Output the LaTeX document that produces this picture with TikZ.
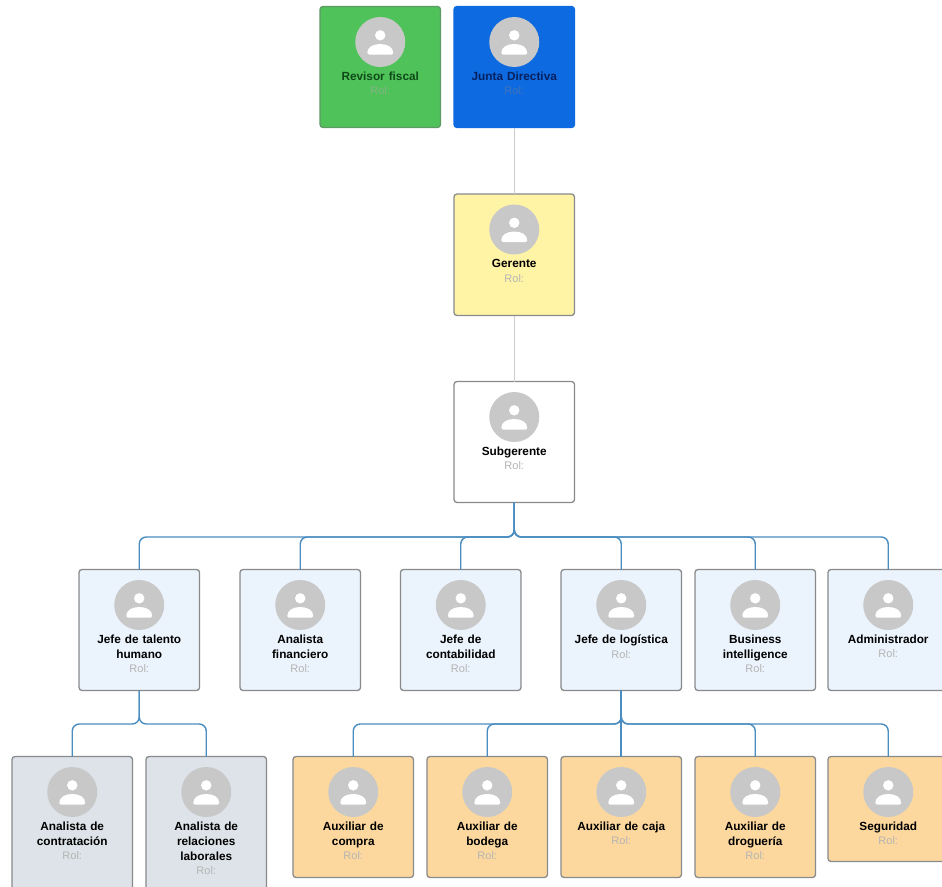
\documentclass[tikz,border=0pt]{standalone}
\usepackage{fontspec}
\setmainfont{Liberation Sans}
\usetikzlibrary{calc}
\definecolor{cgreen}{HTML}{4FC25A}
\definecolor{cblue}{HTML}{0E6AE0}
\definecolor{cyellow}{HTML}{FFF3A6}
\definecolor{clight}{HTML}{EBF3FC}
\definecolor{cgrey}{HTML}{DDE3E8}
\definecolor{corange}{HTML}{FDD89E}
\definecolor{cedge}{HTML}{888A8C}
\definecolor{cline}{HTML}{4A8DC0}
\definecolor{cthin}{HTML}{CCCCCC}
\definecolor{cavatar}{HTML}{C8C8C8}
\definecolor{crol}{HTML}{B4B4B4}
\definecolor{cgreenedge}{HTML}{5E9A64}
\definecolor{cgreentext}{HTML}{0E4A18}
\definecolor{cgreenrol}{HTML}{84B488}
\definecolor{cbluetext}{HTML}{06205E}
\definecolor{cbluerol}{HTML}{4274B8}
\tikzset{
  x=1pt,y=-1pt,
  cardbox/.style={line width=1.3pt,rounded corners=3pt,anchor=north west,minimum width=120.5pt,inner sep=0pt,outer sep=0pt},
  cardtext/.style={anchor=north,align=center,inner sep=0pt,font=\bfseries\fontsize{11.8}{15}\selectfont,text width=118pt},
  avatar/.style={fill=cavatar,draw=none,circle,minimum size=50pt,inner sep=0pt},
  branch/.style={draw=cline,line width=1.4pt,rounded corners=7pt},
  straight branch/.style={draw=cline,line width=2pt},
  thin link/.style={draw=cthin,line width=0.9pt},
}
% \card{name}{x}{y}{height}{fill}{edge}{name colour}{rol colour}{text}
\newcommand{\card}[9]{%
  \node[cardbox,fill=#5,draw=#6,minimum height=#4pt] (#1) at (#2,#3) {};
  \node[avatar] (#1a) at ($(#1.north)+(0,35.5)$) {};
  \fill[white] ($(#1a.center)+(0,-6.7)$) circle (5.2);
  \fill[white] ($(#1a.center)+(-13,11)$)
     .. controls ($(#1a.center)+(-13,5)$) and ($(#1a.center)+(-7,2)$) .. ($(#1a.center)+(0,2)$)
     .. controls ($(#1a.center)+(7,2)$) and ($(#1a.center)+(13,5)$) .. ($(#1a.center)+(13,11)$)
     .. controls ($(#1a.center)+(13,12.3)$) and ($(#1a.center)+(12.3,12.5)$) .. ($(#1a.center)+(11.5,12.5)$)
     -- ($(#1a.center)+(-11.5,12.5)$)
     .. controls ($(#1a.center)+(-12.3,12.5)$) and ($(#1a.center)+(-13,12.3)$) .. cycle;
  \node[cardtext] (#1t) at ($(#1.north)+(0,65.2)$) {\textcolor{#7}{#9}\\[-0.5pt]\textcolor{#8}{\mdseries\fontsize{11}{14}\selectfont Rol:}};
}
\begin{document}
\begin{tikzpicture}
\useasboundingbox (0,0) rectangle (942,886);
\clip (0,0) rectangle (942,886);
\fill[white] (0,0) rectangle (942,886);
\coordinate (busA) at (0,537);
\coordinate (busB) at (0,724);
\card{rev}{320}{6.5}{121}{cgreen}{cgreenedge}{cgreentext}{cgreenrol}{Revisor fiscal}
\card{jun}{454}{6.5}{121}{cblue}{cblue}{cbluetext}{cbluerol}{Junta Directiva}
\card{ger}{454}{194}{121.5}{cyellow}{cedge}{black}{crol}{Gerente}
\card{sub}{454}{381.5}{121}{white}{cedge}{black}{crol}{Subgerente}
\card{jth}{79}{569.5}{121}{clight}{cedge}{black}{crol}{Jefe de talento\\humano}
\card{ana}{240}{569.5}{121}{clight}{cedge}{black}{crol}{Analista\\financiero}
\card{jco}{400.5}{569.5}{121}{clight}{cedge}{black}{crol}{Jefe de\\contabilidad}
\card{jlo}{561}{569.5}{121}{clight}{cedge}{black}{crol}{Jefe de logística}
\card{biz}{695}{569.5}{121}{clight}{cedge}{black}{crol}{Business\\intelligence}
\card{adm}{828}{569.5}{121}{clight}{cedge}{black}{crol}{Administrador}
\card{con}{12}{756.5}{140}{cgrey}{cedge}{black}{crol}{Analista de\\contratación}
\card{rel}{146}{756.5}{140}{cgrey}{cedge}{black}{crol}{Analista de\\relaciones\\laborales}
\card{com}{293}{756.5}{121}{corange}{cedge}{black}{crol}{Auxiliar de\\compra}
\card{bod}{427}{756.5}{121}{corange}{cedge}{black}{crol}{Auxiliar de\\bodega}
\card{caj}{561}{756.5}{121}{corange}{cedge}{black}{crol}{Auxiliar de caja}
\card{dro}{695}{756.5}{121}{corange}{cedge}{black}{crol}{Auxiliar de\\droguería}
\card{seg}{828}{756.5}{105}{corange}{cedge}{black}{crol}{Seguridad}
\draw[thin link] (jun.south) -- (ger.north);
\draw[thin link] (ger.south) -- (sub.north);
\foreach \c in {jth,ana,jco,jlo,biz,adm}
  \draw[branch] (sub.south) -- (sub.south |- busA) -| (\c.north);
\foreach \c in {con,rel}
  \draw[branch] (jth.south) -- (jth.south |- busB) -| (\c.north);
\foreach \c in {com,bod,dro,seg}
  \draw[branch] (jlo.south) -- (jlo.south |- busB) -| (\c.north);
\draw[straight branch] (jlo.south) -- (caj.north);
\end{tikzpicture}
\end{document}
